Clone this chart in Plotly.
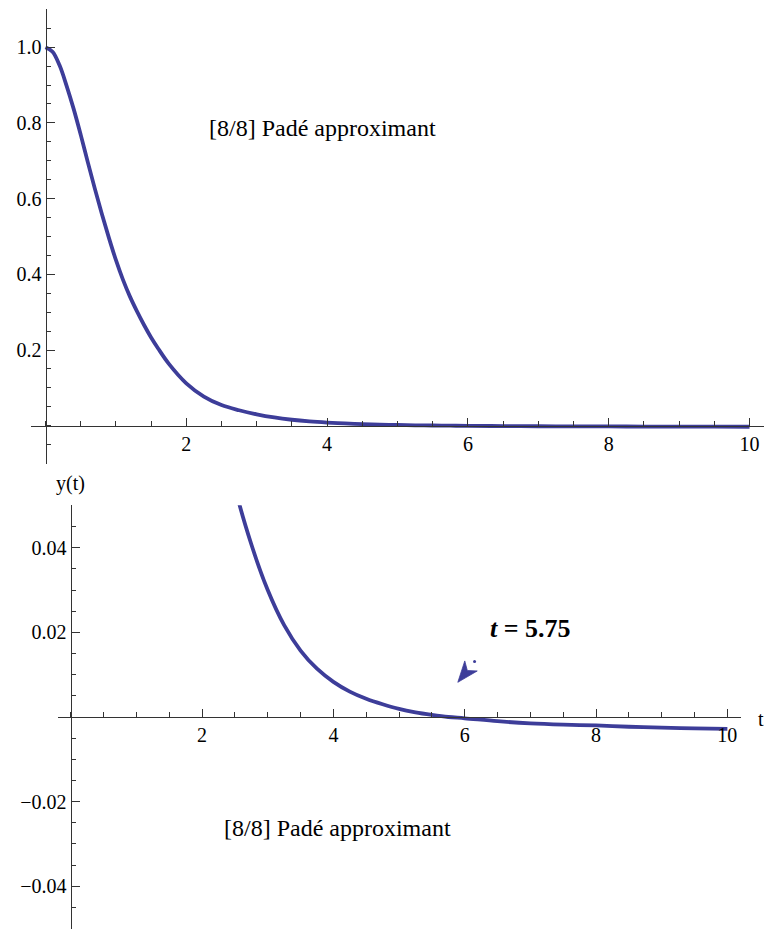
import math
import plotly.graph_objects as go

# ---- data ----
t_vals = [0.0, 0.1, 0.2, 0.3, 0.4, 0.5, 0.6, 0.7, 0.8, 0.9, 1.0, 1.1, 1.2, 1.3, 1.4,
          1.5, 1.6, 1.75, 2.0, 2.25, 2.5, 2.75, 3.0, 3.25, 3.5, 3.75, 4.0, 4.25,
          4.5, 4.75, 5.0, 5.25, 5.5, 5.75, 6.0, 6.5, 7.0, 7.5, 8.0, 8.5, 9.0,
          9.5, 10.0]
y_vals = [1.000, 0.988, 0.952, 0.898, 0.837, 0.769, 0.697, 0.627, 0.560, 0.497,
          0.438, 0.386, 0.341, 0.302, 0.266, 0.233, 0.204, 0.164, 0.112, 0.077,
          0.0545, 0.0408, 0.0300, 0.0217, 0.0157, 0.0114, 0.0083, 0.0060, 0.0043,
          0.0030, 0.0019, 0.0011, 0.0005, 0.0, -0.0003, -0.0010, -0.0015,
          -0.0018, -0.0020, -0.0023, -0.0025, -0.0027, -0.0028]

top_x_ticks = [2, 4, 6, 8, 10]
top_y_ticks = [0.2, 0.4, 0.6, 0.8, 1.0]
top_y_labels = ["0.2", "0.4", "0.6", "0.8", "1.0"]
bot_x_ticks = [2, 4, 6, 8, 10]
bot_y_ticks = [0.04, 0.02, -0.02, -0.04]
bot_y_labels = ["0.04", "0.02", "\u22120.02", "\u22120.04"]

label_text = "[8/8] Padé approximant"
root_text = "<b><i>t</i> = 5.75</b>"
arrow_tail = (6.15, 0.0131)
arrow_tip = (5.895, 0.0082)

# ---- layout helpers (pixel geometry) ----
W, H = 765, 931
def px(p):
    return p / W
def py(p):
    return 1 - p / H

LINE_COLOR = "#3d3d99"
AXIS_COLOR = "#333333"
FONT = "Liberation Serif"

# bottom panel scale (pixels per data unit), used only to shape the arrowhead
BX0, BX1, BY0, BY1 = 57.6, 740.5, 505.35, 928.65
SX = (BX1 - BX0) / 10.4
SY = (BY1 - BY0) / 0.10

def arrow_head(tip, tail, length=21.0, half_w=8.0, notch=0.72):
    tx, ty = tip[0] * SX, tip[1] * SY
    ax_, ay_ = tail[0] * SX, tail[1] * SY
    dx, dy = tx - ax_, ty - ay_
    n = math.hypot(dx, dy)
    ux, uy = dx / n, dy / n
    nx, ny = -uy, ux
    pts = [
        (tx, ty),
        (tx - ux * length + nx * half_w, ty - uy * length + ny * half_w),
        (tx - ux * length * notch, ty - uy * length * notch),
        (tx - ux * length - nx * half_w, ty - uy * length - ny * half_w),
        (tx, ty),
    ]
    return [p[0] / SX for p in pts], [p[1] / SY for p in pts]

fig = go.Figure()
fig.add_trace(go.Scatter(x=t_vals, y=y_vals, mode="lines", xaxis="x", yaxis="y",
                         line=dict(color=LINE_COLOR, width=3.8, shape="spline"),
                         showlegend=False, hoverinfo="skip"))
fig.add_trace(go.Scatter(x=t_vals, y=y_vals, mode="lines", xaxis="x2", yaxis="y2",
                         line=dict(color=LINE_COLOR, width=3.8, shape="spline"),
                         showlegend=False, hoverinfo="skip"))
# pointer arrow to the root
hx, hy = arrow_head(arrow_tip, arrow_tail)
fig.add_trace(go.Scatter(x=hx, y=hy, mode="lines", fill="toself", xaxis="x2", yaxis="y2",
                         fillcolor=LINE_COLOR, line=dict(color=LINE_COLOR, width=0.8),
                         showlegend=False, hoverinfo="skip"))
fig.add_trace(go.Scatter(x=[arrow_tail[0]], y=[arrow_tail[1]], mode="markers",
                         xaxis="x2", yaxis="y2",
                         marker=dict(size=3, color=LINE_COLOR),
                         showlegend=False, hoverinfo="skip"))

def xax(dom, pos, ticks):
    return dict(domain=dom, anchor="free", position=pos, range=[-0.2, 10.2],
                showgrid=False, zeroline=False, showline=True, linecolor=AXIS_COLOR,
                linewidth=1.2, ticks="inside", ticklen=8, tickwidth=1, tickcolor=AXIS_COLOR,
                tickmode="array", tickvals=ticks, ticktext=[str(v) for v in ticks],
                tickfont=dict(family=FONT, size=20, color="black"),
                minor=dict(tickmode="linear", tick0=0, dtick=0.5, ticks="inside",
                           ticklen=4.5, tickwidth=1, tickcolor=AXIS_COLOR, showgrid=False),
                fixedrange=True)

def yax(dom, pos, rng, ticks, labels, mdt):
    return dict(domain=dom, anchor="free", position=pos, range=rng,
                showgrid=False, zeroline=False, showline=True, linecolor=AXIS_COLOR,
                linewidth=1.2, ticks="inside", ticklen=8, tickwidth=1, tickcolor=AXIS_COLOR,
                tickmode="array", tickvals=ticks, ticktext=labels,
                tickfont=dict(family=FONT, size=20, color="black"),
                minor=dict(tickmode="linear", tick0=0, dtick=mdt, ticks="inside",
                           ticklen=4.5, tickwidth=1, tickcolor=AXIS_COLOR, showgrid=False),
                fixedrange=True)

fig.update_layout(
    width=W, height=H, margin=dict(l=0, r=0, t=0, b=0),
    paper_bgcolor="white", plot_bgcolor="white",
    font=dict(family=FONT),
    hovermode=False,
    xaxis=xax([px(31.4), px(763.6)], py(425.7), top_x_ticks),
    yaxis=yax([py(463.55), py(9.35)], px(45.5), [-0.1, 1.1], top_y_ticks, top_y_labels, 0.05),
    xaxis2=xax([px(BX0), px(BX1)], py(717), bot_x_ticks),
    yaxis2=yax([py(BY1), py(BY0)], px(70.7), [-0.05, 0.05], bot_y_ticks, bot_y_labels, 0.005),
)

def txt(s, x, y, size, **kw):
    return dict(text=s, x=px(x), y=py(y), xref="paper", yref="paper",
                xanchor="center", yanchor="middle", showarrow=False,
                font=dict(family=FONT, size=size, color="black"), **kw)

ann = [
    txt(label_text, 322.5, 128, 24),
    txt(label_text, 337.5, 828, 24),
    txt(root_text, 530, 628, 26),
    txt("y(t)", 70, 483, 20),
    txt("t", 761, 719, 20),
]
fig.update_layout(annotations=ann)

fig.write_html("out.html", config={"displayModeBar": False},
               post_script="document.body.style.margin='0';")
